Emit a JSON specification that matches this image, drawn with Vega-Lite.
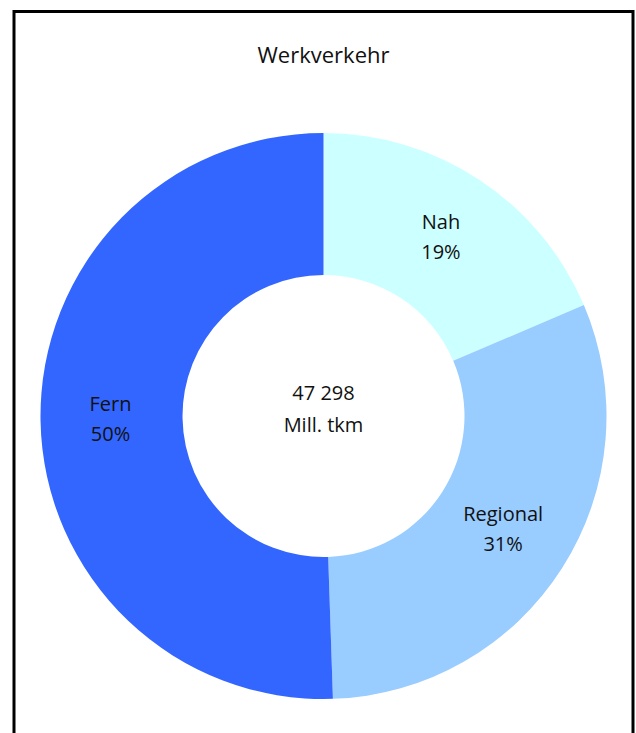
{
  "$schema": "https://vega.github.io/schema/vega-lite/v6.json",
  "autosize": {"type": "none"},
  "width": 619,
  "height": 809,
  "padding": {"left": 14, "top": 11.5, "right": 3, "bottom": 0},
  "background": "white",
  "view": {"stroke": "#000000", "strokeWidth": 3, "fill": null},
  "title": {
    "text": "Werkverkehr",
    "orient": "top",
    "anchor": "middle",
    "offset": -73,
    "baseline": "alphabetic",
    "font": "Open Sans",
    "fontSize": 22,
    "fontWeight": "normal",
    "color": "#111111"
  },
  "config": {
    "view": {"stroke": "#000000", "strokeWidth": 3},
    "text": {"font": "Open Sans"}
  },
  "layer": [
    {
      "data": {
        "values": [
          {"kategorie": "Nah", "anteil": 18.59, "ordnung": 1, "beschriftung": "Nah\n19%"},
          {"kategorie": "Regional", "anteil": 30.88, "ordnung": 2, "beschriftung": "Regional\n31%"},
          {"kategorie": "Fern", "anteil": 50.53, "ordnung": 3, "beschriftung": "Fern\n50%"}
        ]
      },
      "encoding": {
        "theta": {"field": "anteil", "type": "quantitative", "stack": true},
        "order": {"field": "ordnung", "type": "quantitative"}
      },
      "layer": [
        {
          "mark": {"type": "arc", "outerRadius": 283, "innerRadius": 141, "stroke": null},
          "encoding": {
            "color": {
              "field": "kategorie",
              "type": "nominal",
              "scale": {"domain": ["Nah", "Regional", "Fern"], "range": ["#CCFFFF", "#99CCFF", "#3366FF"]},
              "legend": null
            }
          }
        },
        {
          "mark": {
            "type": "text",
            "radius": 213,
            "fontSize": 20,
            "lineBreak": "\n",
            "lineHeight": 30,
            "align": "center",
            "baseline": "middle",
            "dy": -15,
            "color": "#111111"
          },
          "encoding": {
            "text": {"field": "beschriftung", "type": "nominal"}
          }
        }
      ]
    },
    {
      "data": {"values": [{"zentrum": "47 298\nMill. tkm"}]},
      "mark": {
        "type": "text",
        "fontSize": 20,
        "lineBreak": "\n",
        "lineHeight": 32,
        "align": "center",
        "baseline": "middle",
        "dy": -22,
        "color": "#111111"
      },
      "encoding": {
        "text": {"field": "zentrum", "type": "nominal"}
      }
    }
  ]
}
